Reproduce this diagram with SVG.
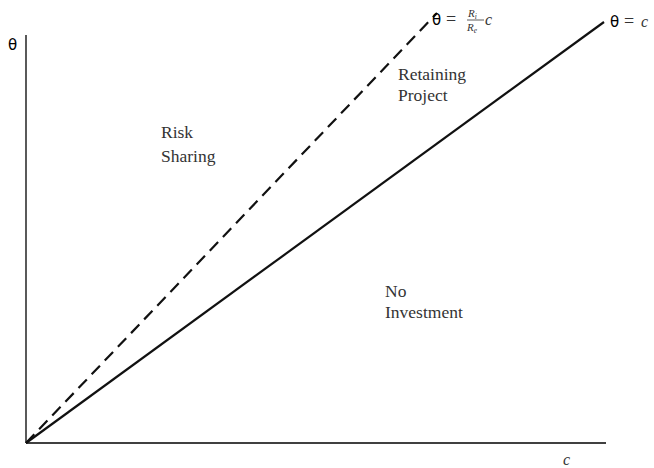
<svg xmlns="http://www.w3.org/2000/svg" width="654" height="468" viewBox="0 0 654 468">
<style>
.ax{stroke:#000;stroke-width:1.3;fill:none}
.ln{stroke:#111;stroke-width:2.2;fill:none}
.lab{font-family:"Liberation Serif",serif;font-size:17.5px;fill:#333}
.th{font-family:"DejaVu Sans",sans-serif;font-size:15px;fill:#000}
.eq{font-family:"Liberation Serif",serif;font-size:18px;fill:#333}
.mi{font-family:"Liberation Serif",serif;font-style:italic;fill:#333}
</style>
<rect width="654" height="468" fill="#fff"/>
<g id="axes">
<line class="ax" x1="26" y1="35" x2="26" y2="443"/>
<line class="ax" x1="26" y1="443" x2="606" y2="443"/>
<text class="th" x="8" y="50">θ</text>
<text class="mi" x="563" y="465" font-size="16">c</text>
</g>
<g id="connectors">
<line class="ln" x1="26" y1="443" x2="604" y2="22"/>
<line class="ln" x1="26" y1="443" x2="437" y2="13" stroke-dasharray="12,7"/>
</g>
<g id="label-solid">
<text class="th" x="610" y="27">θ</text>
<text class="eq" x="624" y="27">=</text>
<text class="mi" x="641" y="27" font-size="16">c</text>
</g>
<g id="label-dashed">
<text class="th" x="432" y="25">θ</text>
<text class="eq" x="446" y="25">=</text>
<text class="mi" x="468" y="17" font-size="11">R<tspan font-size="7.5" dy="2">i</tspan></text>
<line x1="467" y1="20" x2="484" y2="20" stroke="#333" stroke-width="0.8"/>
<text class="mi" x="467" y="31" font-size="11">R<tspan font-size="7.5" dy="2">e</tspan></text>
<text class="mi" x="485" y="25" font-size="16">c</text>
</g>
<g id="risk-sharing">
<text class="lab" x="161" y="138">Risk</text>
<text class="lab" x="161" y="162">Sharing</text>
</g>
<g id="retaining-project">
<text class="lab" x="398" y="80">Retaining</text>
<text class="lab" x="398" y="101">Project</text>
</g>
<g id="no-investment">
<text class="lab" x="385" y="297">No</text>
<text class="lab" x="385" y="318">Investment</text>
</g>
</svg>
